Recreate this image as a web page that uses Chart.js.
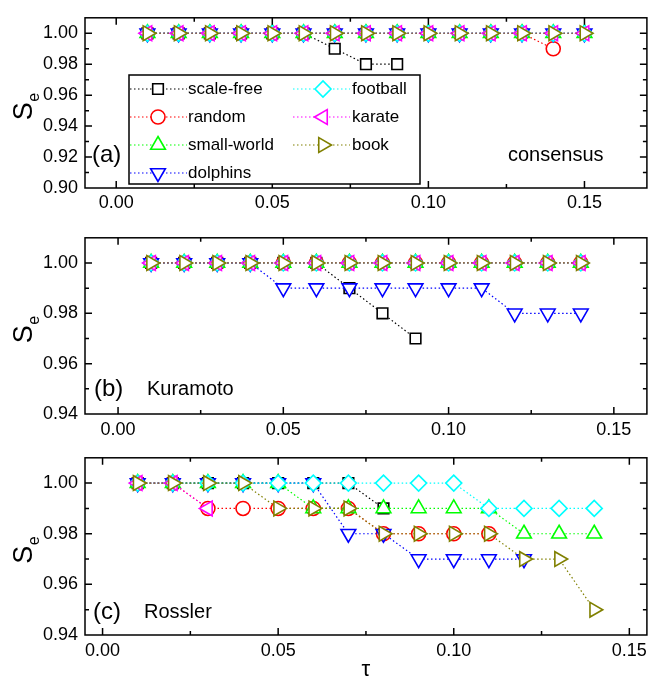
<!DOCTYPE html>
<html>
<head>
<meta charset="utf-8">
<script src="https://cdn.jsdelivr.net/npm/chart.js@4.4.1/dist/chart.umd.min.js"></script>
<style>
  html, body { margin: 0; padding: 0; background: #fff; }
  #wrap { position: relative; width: 657px; height: 682px; overflow: hidden; }
  canvas { position: absolute; left: 0; }
</style>
</head>
<body>
<div id="wrap">
  <canvas id="chartA" width="657" height="220" style="top:0px"></canvas>
  <canvas id="chartB" width="657" height="220" style="top:220px"></canvas>
  <canvas id="chartC" width="657" height="242" style="top:440px"></canvas>
</div>
<script>
// tau values (x) for each panel
const tauA = [0.01, 0.02, 0.03, 0.04, 0.05, 0.06, 0.07, 0.08, 0.09, 0.10, 0.11, 0.12, 0.13, 0.14, 0.15];
const tauBC = [0.01, 0.02, 0.03, 0.04, 0.05, 0.06, 0.07, 0.08, 0.09, 0.10, 0.11, 0.12, 0.13, 0.14];

const seriesNames = ['scale-free', 'random', 'small-world', 'dolphins', 'football', 'karate', 'book'];

// (a) consensus
const aScaleFree = [1.00, 1.00, 1.00, 1.00, 1.00, 1.00, 0.99, 0.98, 0.98];
const aRandom = [1.00, 1.00, 1.00, 1.00, 1.00, 1.00, 1.00, 1.00, 1.00, 1.00, 1.00, 1.00, 1.00, 0.99];
const aSmallWorld = [1.00, 1.00, 1.00, 1.00, 1.00, 1.00, 1.00, 1.00, 1.00, 1.00, 1.00, 1.00, 1.00, 1.00, 1.00];
const aDolphins = [1.00, 1.00, 1.00, 1.00, 1.00, 1.00, 1.00, 1.00, 1.00, 1.00, 1.00, 1.00, 1.00, 1.00, 1.00];
const aFootball = [1.00, 1.00, 1.00, 1.00, 1.00, 1.00, 1.00, 1.00, 1.00, 1.00, 1.00, 1.00, 1.00, 1.00, 1.00];
const aKarate = [1.00, 1.00, 1.00, 1.00, 1.00, 1.00, 1.00, 1.00, 1.00, 1.00, 1.00, 1.00, 1.00, 1.00, 1.00];
const aBook = [1.00, 1.00, 1.00, 1.00, 1.00, 1.00, 1.00, 1.00, 1.00, 1.00, 1.00, 1.00, 1.00, 1.00, 1.00];

// (b) Kuramoto
const bScaleFree = [1.00, 1.00, 1.00, 1.00, 1.00, 1.00, 0.99, 0.98, 0.97];
const bRandom = [1.00, 1.00, 1.00, 1.00, 1.00, 1.00, 1.00, 1.00, 1.00, 1.00, 1.00, 1.00, 1.00, 1.00];
const bSmallWorld = [1.00, 1.00, 1.00, 1.00, 1.00, 1.00, 1.00, 1.00, 1.00, 1.00, 1.00, 1.00, 1.00, 1.00];
const bDolphins = [1.00, 1.00, 1.00, 1.00, 0.99, 0.99, 0.99, 0.99, 0.99, 0.99, 0.99, 0.98, 0.98, 0.98];
const bFootball = [1.00, 1.00, 1.00, 1.00, 1.00, 1.00, 1.00, 1.00, 1.00, 1.00, 1.00, 1.00, 1.00, 1.00];
const bKarate = [1.00, 1.00, 1.00, 1.00, 1.00, 1.00, 1.00, 1.00, 1.00, 1.00, 1.00, 1.00, 1.00, 1.00];
const bBook = [1.00, 1.00, 1.00, 1.00, 1.00, 1.00, 1.00, 1.00, 1.00, 1.00, 1.00, 1.00, 1.00, 1.00];

// (c) Rossler
const cScaleFree = [1.00, 1.00, 1.00, 1.00, 1.00, 1.00, 1.00, 0.99];
const cRandom = [1.00, 1.00, 0.99, 0.99, 0.99, 0.99, 0.99, 0.98, 0.98, 0.98, 0.98];
const cSmallWorld = [1.00, 1.00, 1.00, 1.00, 1.00, 0.99, 0.99, 0.99, 0.99, 0.99, 0.99, 0.98, 0.98, 0.98];
const cDolphins = [1.00, 1.00, 1.00, 1.00, 1.00, 1.00, 0.98, 0.98, 0.97, 0.97, 0.97, 0.97];
const cFootball = [1.00, 1.00, 1.00, 1.00, 1.00, 1.00, 1.00, 1.00, 1.00, 1.00, 0.99, 0.99, 0.99, 0.99];
const cKarate = [1.00, 1.00, 0.99];
const cBook = [1.00, 1.00, 1.00, 1.00, 0.99, 0.99, 0.99, 0.98, 0.98, 0.98, 0.98, 0.97, 0.97, 0.95];

// tick labels
const xTicks = [0.00, 0.05, 0.10, 0.15];
const yTicksA = [0.90, 0.92, 0.94, 0.96, 0.98, 1.00];
const yTicksBC = [0.94, 0.96, 0.98, 1.00];

// marker styles (Origin-like open symbols, white inside)
const seriesColors = ['#000000', '#ff0000', '#00ff00', '#0000ff', '#00ffff', '#ff00ff', '#808000'];
const seriesShapes = ['rect', 'circle', 'triangle', 'triangle', 'rectRot', 'triangle', 'triangle'];
const seriesRotation = [0, 0, 0, 180, 0, 270, 90];
const seriesRadius = [7.5, 7, 8.5, 8.5, 8, 8.5, 8.5];

const FONT = "Arial, 'Liberation Sans', sans-serif";
Chart.defaults.font.family = FONT;
Chart.defaults.color = '#000';

const toPoints = (tau, ys) => ys.map((v, i) => ({ x: tau[i], y: v }));

function buildDatasets(tau, seriesList) {
    return seriesList.map((ys, i) => ({
        label: seriesNames[i],
        data: toPoints(tau, ys),
        borderColor: seriesColors[i],
        backgroundColor: '#fff',
        borderWidth: 1.2,
        borderDash: [1.5, 2.5],
        pointStyle: seriesShapes[i],
        pointRotation: seriesRotation[i],
        pointRadius: seriesRadius[i],
        pointBorderColor: seriesColors[i],
        pointBackgroundColor: '#fff',
        pointBorderWidth: 1.6,
        fill: false,
        tension: 0,
        clip: false,
        order: seriesList.length - 1 - i   // book drawn last, on top
    }));
}

// draws the box, inward ticks, panel text, y title and (for panel a) the legend
const framePlugin = {
    id: 'frame',
    afterDatasetsDraw(chart, args, opts) {
        const { ctx, chartArea: a, scales: { x, y } } = chart;
        ctx.save();
        ctx.strokeStyle = '#000';
        ctx.lineWidth = 1.5;
        ctx.setLineDash([]);
        ctx.strokeRect(a.left, a.top, a.right - a.left, a.bottom - a.top);

        const xt = opts.xTicks, yt = opts.yTicks;
        const dx = (xt[1] - xt[0]) / 2, dy = (yt[1] - yt[0]) / 2;
        ctx.beginPath();
        for (let k = -4; k < 40; k++) {
            const v = xt[0] + k * dx;
            if (v <= x.min + 1e-9 || v >= x.max - 1e-9) continue;
            const px = x.getPixelForValue(v);
            const len = k % 2 === 0 ? 7 : 4;
            ctx.moveTo(px, a.bottom); ctx.lineTo(px, a.bottom - len);
            ctx.moveTo(px, a.top); ctx.lineTo(px, a.top + len);
        }
        for (let k = -4; k < 40; k++) {
            const v = yt[0] + k * dy;
            if (v <= y.min + 1e-9 || v >= y.max - 1e-9) continue;
            const py = y.getPixelForValue(v);
            const len = k % 2 === 0 ? 7 : 4;
            ctx.moveTo(a.left, py); ctx.lineTo(a.left + len, py);
            ctx.moveTo(a.right, py); ctx.lineTo(a.right - len, py);
        }
        ctx.stroke();
        ctx.restore();
    },
    afterDraw(chart, args, opts) {
        const { ctx, chartArea: a } = chart;
        ctx.save();
        ctx.fillStyle = '#000';
        ctx.textBaseline = 'middle';
        ctx.textAlign = 'left';
        ctx.font = '24px ' + FONT;
        ctx.fillText(opts.tag, opts.tagX, opts.textY);
        ctx.font = '20px ' + FONT;
        ctx.fillText(opts.name, opts.nameX, opts.textY);

        // y title: S with subscript e
        ctx.save();
        ctx.translate(22, (a.top + a.bottom) / 2 + 4);
        ctx.rotate(-Math.PI / 2);
        ctx.textBaseline = 'alphabetic';
        ctx.font = '27px ' + FONT;
        const wS = ctx.measureText('S').width;
        ctx.font = '16px ' + FONT;
        const wE = ctx.measureText('e').width;
        const x0 = -(wS + wE) / 2;
        ctx.font = '27px ' + FONT;
        ctx.fillText('S', x0, 10);
        ctx.font = '16px ' + FONT;
        ctx.fillText('e', x0 + wS + 0.5, 17);
        ctx.restore();

        if (opts.legend) {
            const lg = opts.legend;
            ctx.fillStyle = '#fff';
            ctx.fillRect(lg.left, lg.top, lg.right - lg.left, lg.bottom - lg.top);
            ctx.strokeStyle = '#000';
            ctx.lineWidth = 1.5;
            ctx.strokeRect(lg.left, lg.top, lg.right - lg.left, lg.bottom - lg.top);
            seriesNames.forEach((name, i) => {
                const col = i < 4 ? 0 : 1;
                const row = i < 4 ? i : i - 4;
                const yy = lg.rows[row];
                const c = lg.cols[col];
                ctx.strokeStyle = seriesColors[i];
                ctx.lineWidth = 1.2;
                ctx.setLineDash([1.5, 2.5]);
                ctx.beginPath();
                ctx.moveTo(c.lineFrom, yy);
                ctx.lineTo(c.lineTo, yy);
                ctx.stroke();
                ctx.setLineDash([]);
                ctx.fillStyle = '#fff';
                ctx.lineWidth = 1.6;
                Chart.helpers.drawPoint(ctx, {
                    pointStyle: seriesShapes[i],
                    rotation: seriesRotation[i],
                    radius: seriesRadius[i],
                    borderWidth: 1.6
                }, c.marker, yy);
                ctx.fillStyle = '#000';
                ctx.font = '17px ' + FONT;
                ctx.textBaseline = 'middle';
                ctx.fillText(name, c.text, yy + 0.5);
            });
        }
        ctx.restore();
    }
};

function makePanel(id, cfg) {
    return new Chart(document.getElementById(id), {
        type: 'line',
        data: { datasets: buildDatasets(cfg.tau, cfg.series) },
        options: {
            responsive: false,
            animation: false,
            layout: { padding: { top: cfg.padTop, right: 1, left: 0, bottom: 0 } },
            scales: {
                x: {
                    type: 'linear',
                    min: cfg.xMin,
                    max: cfg.xMax,
                    grid: { display: false, drawTicks: false },
                    border: { display: false },
                    afterBuildTicks: s => { s.ticks = xTicks.map(v => ({ value: v })); },
                    afterFit: s => { s.height = cfg.xAxisH; },
                    ticks: {
                        autoSkip: false,
                        maxRotation: 0,
                        padding: cfg.xPad,
                        font: { size: 18 },
                        callback: v => v.toFixed(2)
                    },
                    title: cfg.xTitle ? {
                        display: true,
                        text: cfg.xTitle,
                        font: { size: 22, lineHeight: 1 },
                        padding: { top: 0, bottom: 1 }
                    } : { display: false }
                },
                y: {
                    min: cfg.yMin,
                    max: cfg.yMax,
                    grid: { display: false, drawTicks: false },
                    border: { display: false },
                    afterBuildTicks: s => { s.ticks = cfg.yTicks.map(v => ({ value: v })); },
                    afterFit: s => { s.width = 85; },
                    ticks: {
                        autoSkip: false,
                        padding: 7,
                        font: { size: 18 },
                        callback: v => v.toFixed(2)
                    }
                }
            },
            plugins: {
                legend: { display: false },
                tooltip: { enabled: false },
                frame: {
                    xTicks: xTicks,
                    yTicks: cfg.yTicks,
                    tag: cfg.tag,
                    tagX: cfg.tagX,
                    name: cfg.name,
                    nameX: cfg.nameX,
                    textY: cfg.textY,
                    legend: cfg.legend || null
                }
            }
        },
        plugins: [framePlugin]
    });
}

makePanel('chartA', {
    tau: tauA,
    series: [aScaleFree, aRandom, aSmallWorld, aDolphins, aFootball, aKarate, aBook],
    xMin: -0.01, xMax: 0.17, yMin: 0.90, yMax: 1.01, yTicks: yTicksA,
    padTop: 7, xAxisH: 32, xPad: 4,
    tag: '(a)', tagX: 92, name: 'consensus', nameX: 508, textY: 155,
    legend: {
        left: 129, top: 75, right: 420, bottom: 184,
        rows: [89, 117, 145, 173],
        cols: [
            { lineFrom: 130, lineTo: 187, marker: 158, text: 188 },
            { lineFrom: 293, lineTo: 350, marker: 323, text: 352 }
        ]
    }
});

makePanel('chartB', {
    tau: tauBC,
    series: [bScaleFree, bRandom, bSmallWorld, bDolphins, bFootball, bKarate, bBook],
    xMin: -0.01, xMax: 0.16, yMin: 0.94, yMax: 1.01, yTicks: yTicksBC,
    padTop: 13, xAxisH: 26, xPad: 5,
    tag: '(b)', tagX: 94, name: 'Kuramoto', nameX: 147, textY: 169
});

makePanel('chartC', {
    tau: tauBC,
    series: [cScaleFree, cRandom, cSmallWorld, cDolphins, cFootball, cKarate, cBook],
    xMin: -0.005, xMax: 0.155, yMin: 0.94, yMax: 1.01, yTicks: yTicksBC,
    padTop: 15, xAxisH: 47, xPad: 5, xTitle: 'τ',
    tag: '(c)', tagX: 93, name: 'Rossler', nameX: 144, textY: 172
});
</script>
</body>
</html>
